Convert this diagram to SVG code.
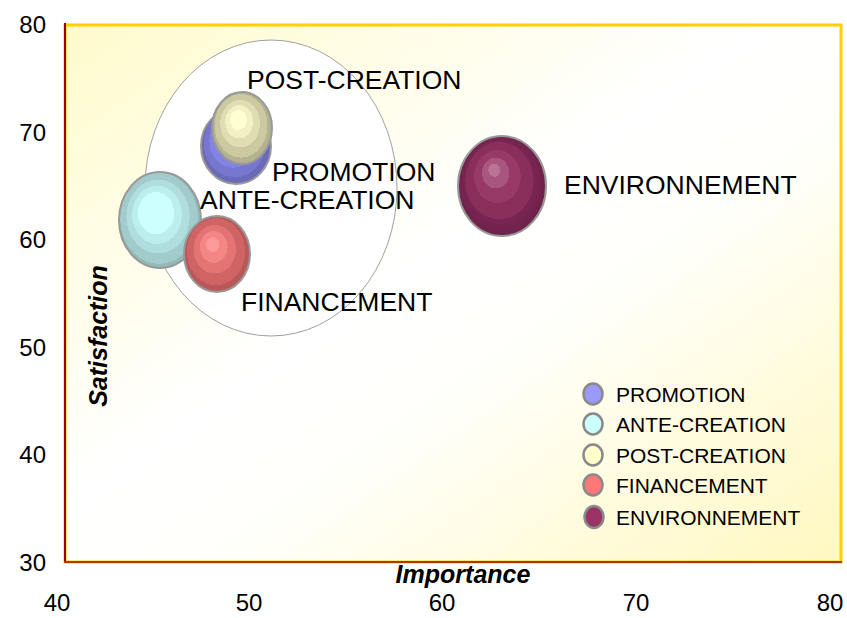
<svg xmlns="http://www.w3.org/2000/svg" width="847" height="618" viewBox="0 0 847 618">
<style>
.tick{font-family:"Liberation Sans",Arial,sans-serif;font-size:24px;fill:#000}
.lbl{font-family:"Liberation Sans",Arial,sans-serif;font-size:26.5px;fill:#000}
.leg{font-family:"Liberation Sans",Arial,sans-serif;font-size:21px;fill:#000}
.ax{font-family:"Liberation Sans",Arial,sans-serif;font-size:25px;font-weight:bold;font-style:italic;fill:#000}
.bub{stroke:#999;stroke-width:2}
.lm{stroke:#8a8a8a;stroke-width:2.5}
</style>
<defs>
<linearGradient id="bg" x1="0" y1="0" x2="1" y2="1">
<stop offset="0" stop-color="#fffbcc"/>
<stop offset="0.45" stop-color="#ffffff"/>
<stop offset="0.6" stop-color="#fffffa"/>
<stop offset="1" stop-color="#fff8c0"/>
</linearGradient>
<radialGradient id="gBlue" cx="0.5" cy="0.5" r="0.55" fx="0.4" fy="0.35">
<stop offset="0" stop-color="#9e9eff"/><stop offset="0.3" stop-color="#9e9eff"/>
<stop offset="0.3" stop-color="#9090f4"/><stop offset="0.45" stop-color="#9090f4"/>
<stop offset="0.45" stop-color="#8383e4"/><stop offset="0.62" stop-color="#8383e4"/>
<stop offset="0.62" stop-color="#7777d0"/><stop offset="0.8" stop-color="#7777d0"/>
<stop offset="0.8" stop-color="#6a6ab8"/><stop offset="1" stop-color="#6a6ab8"/>
</radialGradient>
<radialGradient id="gPost" cx="0.5" cy="0.5" r="0.55" fx="0.42" fy="0.35">
<stop offset="0" stop-color="#fffdd2"/><stop offset="0.25" stop-color="#fffdd2"/>
<stop offset="0.25" stop-color="#f2f0c4"/><stop offset="0.42" stop-color="#f2f0c4"/>
<stop offset="0.42" stop-color="#e0ddb2"/><stop offset="0.6" stop-color="#e0ddb2"/>
<stop offset="0.6" stop-color="#cbc9a0"/><stop offset="0.8" stop-color="#cbc9a0"/>
<stop offset="0.8" stop-color="#b4b290"/><stop offset="1" stop-color="#b4b290"/>
</radialGradient>
<radialGradient id="gAnte" cx="0.5" cy="0.5" r="0.55" fx="0.42" fy="0.38">
<stop offset="0" stop-color="#ccffff"/><stop offset="0.4" stop-color="#ccffff"/>
<stop offset="0.4" stop-color="#bdeeee"/><stop offset="0.55" stop-color="#bdeeee"/>
<stop offset="0.55" stop-color="#b0dddd"/><stop offset="0.7" stop-color="#b0dddd"/>
<stop offset="0.7" stop-color="#a2cccc"/><stop offset="0.86" stop-color="#a2cccc"/>
<stop offset="0.86" stop-color="#93baba"/><stop offset="1" stop-color="#93baba"/>
</radialGradient>
<radialGradient id="gFin" cx="0.5" cy="0.5" r="0.55" fx="0.42" fy="0.35">
<stop offset="0" stop-color="#ff9a9a"/><stop offset="0.18" stop-color="#ff9a9a"/>
<stop offset="0.18" stop-color="#f48686"/><stop offset="0.38" stop-color="#f48686"/>
<stop offset="0.38" stop-color="#e47474"/><stop offset="0.58" stop-color="#e47474"/>
<stop offset="0.58" stop-color="#d06464"/><stop offset="0.8" stop-color="#d06464"/>
<stop offset="0.8" stop-color="#b85858"/><stop offset="1" stop-color="#b85858"/>
</radialGradient>
<radialGradient id="gEnv" cx="0.5" cy="0.5" r="0.55" fx="0.4" fy="0.32">
<stop offset="0" stop-color="#bb7394"/><stop offset="0.12" stop-color="#bb7394"/>
<stop offset="0.12" stop-color="#a85680"/><stop offset="0.28" stop-color="#a85680"/>
<stop offset="0.28" stop-color="#983a68"/><stop offset="0.48" stop-color="#983a68"/>
<stop offset="0.48" stop-color="#8a2e5c"/><stop offset="0.7" stop-color="#8a2e5c"/>
<stop offset="0.7" stop-color="#7a2652"/><stop offset="1" stop-color="#6a2048"/>
</radialGradient>
</defs>
<g id="plot-area">
<rect x="65" y="25" width="776" height="537" fill="url(#bg)" stroke="#ffd000" stroke-width="3"/>
<line x1="65" y1="23" x2="65" y2="563" stroke="#a00000" stroke-width="2"/>
<line x1="64" y1="562" x2="842" y2="562" stroke="#b03800" stroke-width="2"/>
</g>
<g id="axis-y-labels" class="tick" text-anchor="end">
<text x="46" y="33">80</text>
<text x="46" y="141">70</text>
<text x="46" y="248">60</text>
<text x="46" y="356">50</text>
<text x="46" y="463">40</text>
<text x="46" y="571">30</text>
</g>
<g id="axis-x-labels" class="tick" text-anchor="middle">
<text x="57" y="611">40</text>
<text x="249" y="611">50</text>
<text x="442" y="611">60</text>
<text x="636" y="611">70</text>
<text x="830" y="611">80</text>
</g>
<text id="x-title" class="ax" x="463" y="583" text-anchor="middle">Importance</text>
<text id="y-title" class="ax" transform="translate(107,336) rotate(-90)" text-anchor="middle">Satisfaction</text>
<g id="group-circle">
<ellipse cx="271" cy="188" rx="126" ry="148" fill="#ffffff" stroke="#a0a0a0" stroke-width="1"/>
</g>
<g id="node-ante-creation">
<ellipse class="bub" cx="160" cy="220" rx="41" ry="48" fill="url(#gAnte)"/>
</g>
<g id="node-promotion">
<ellipse class="bub" cx="236" cy="146" rx="35" ry="38" fill="url(#gBlue)"/>
</g>
<g id="node-post-creation">
<ellipse class="bub" cx="242" cy="128" rx="30" ry="36" fill="url(#gPost)"/>
</g>
<g id="node-financement">
<ellipse class="bub" cx="217" cy="254" rx="33" ry="38" fill="url(#gFin)"/>
</g>
<g id="node-environnement">
<ellipse class="bub" cx="502" cy="186" rx="44" ry="50" fill="url(#gEnv)"/>
</g>
<g id="bubble-labels" class="lbl">
<text x="247" y="89">POST-CREATION</text>
<text x="272" y="181">PROMOTION</text>
<text x="200" y="209">ANTE-CREATION</text>
<text x="241" y="311">FINANCEMENT</text>
<text x="564" y="194">ENVIRONNEMENT</text>
</g>
<g id="legend" class="leg">
<ellipse class="lm" cx="593" cy="394" rx="9.5" ry="10.5" fill="#9999ff"/>
<text x="616" y="402">PROMOTION</text>
<ellipse class="lm" cx="593" cy="424" rx="9.5" ry="10.5" fill="#ccffff"/>
<text x="616" y="432">ANTE-CREATION</text>
<ellipse class="lm" cx="593" cy="455" rx="9.5" ry="10.5" fill="#ffffcc"/>
<text x="616" y="463">POST-CREATION</text>
<ellipse class="lm" cx="593" cy="485" rx="9.5" ry="10.5" fill="#ff7777"/>
<text x="616" y="493">FINANCEMENT</text>
<ellipse class="lm" cx="594" cy="517" rx="9.5" ry="11" fill="#993366"/>
<text x="616" y="525">ENVIRONNEMENT</text>
</g>
</svg>
